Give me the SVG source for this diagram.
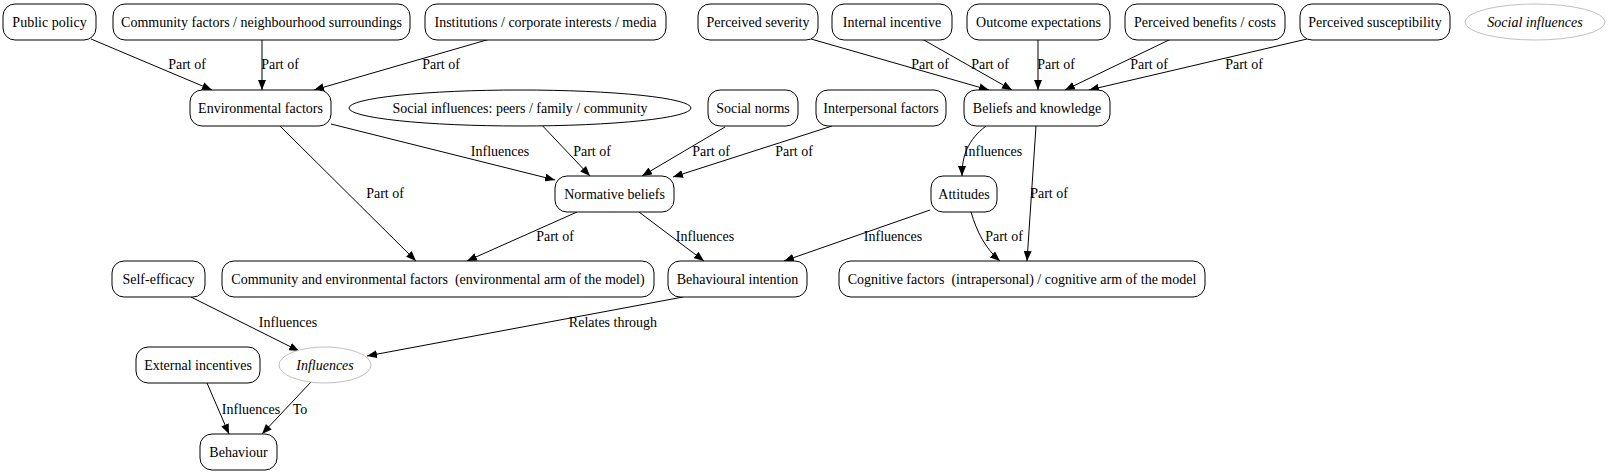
<svg xmlns="http://www.w3.org/2000/svg" width="1611" height="474" viewBox="0 0 1611 474">
<style>
text{font-family:"Liberation Serif","Times New Roman",serif;font-size:14px;fill:#000}
.n{text-anchor:middle}
.box{fill:#fff;stroke:#000;stroke-width:1}
.soft{fill:#fff;stroke:#c0c0c0;stroke-width:1}
.it{font-style:italic}
.e{fill:none;stroke:#000;stroke-width:1}
.l{text-anchor:middle}
</style>
<defs>
<marker id="ah" viewBox="0 0 10 8" refX="10" refY="4" markerWidth="10" markerHeight="8" markerUnits="userSpaceOnUse" orient="auto">
<path d="M0,0 L10,4 L0,8 Z" fill="#000"/>
</marker>
</defs>
<rect width="1611" height="474" fill="#fff"/>
<g id="connectors">
<path class="e" d="M91,39 L212,90" marker-end="url(#ah)"/>
<text class="l" x="187" y="69">Part of</text>
<path class="e" d="M262,39 L262,90" marker-end="url(#ah)"/>
<text class="l" x="280" y="69">Part of</text>
<path class="e" d="M490,39 L314,90" marker-end="url(#ah)"/>
<text class="l" x="441" y="69">Part of</text>
<path class="e" d="M811,39 L989,90" marker-end="url(#ah)"/>
<text class="l" x="930" y="69">Part of</text>
<path class="e" d="M922,39 L1012,90" marker-end="url(#ah)"/>
<text class="l" x="990" y="69">Part of</text>
<path class="e" d="M1038,39 L1038,90" marker-end="url(#ah)"/>
<text class="l" x="1056" y="69">Part of</text>
<path class="e" d="M1171,39 L1065,90" marker-end="url(#ah)"/>
<text class="l" x="1149" y="69">Part of</text>
<path class="e" d="M1307,39 L1089,90" marker-end="url(#ah)"/>
<text class="l" x="1244" y="69">Part of</text>
<path class="e" d="M331,124 L555,180" marker-end="url(#ah)"/>
<text class="l" x="500" y="156">Influences</text>
<path class="e" d="M280,126 L416,261" marker-end="url(#ah)"/>
<text class="l" x="385" y="198">Part of</text>
<path class="e" d="M538,121 L590,176" marker-end="url(#ah)"/>
<text class="l" x="592" y="156">Part of</text>
<path class="e" d="M725,127 L642,176" marker-end="url(#ah)"/>
<text class="l" x="711" y="156">Part of</text>
<path class="e" d="M832,126 L673,177" marker-end="url(#ah)"/>
<text class="l" x="794" y="156">Part of</text>
<path class="e" d="M986,126 C968,140 962,155 962,176" marker-end="url(#ah)"/>
<text class="l" x="993" y="156">Influences</text>
<path class="e" d="M1036,126 L1027,261" marker-end="url(#ah)"/>
<text class="l" x="1049" y="198">Part of</text>
<path class="e" d="M577,212 L467,261" marker-end="url(#ah)"/>
<text class="l" x="555" y="241">Part of</text>
<path class="e" d="M639,212 L704,261" marker-end="url(#ah)"/>
<text class="l" x="705" y="241">Influences</text>
<path class="e" d="M930,210 L784,261" marker-end="url(#ah)"/>
<text class="l" x="893" y="241">Influences</text>
<path class="e" d="M971,212 C977,232 985,248 1000,261" marker-end="url(#ah)"/>
<text class="l" x="1004" y="241">Part of</text>
<path class="e" d="M191,297 L299,351" marker-end="url(#ah)"/>
<text class="l" x="288" y="327">Influences</text>
<path class="e" d="M683,297 L367,356" marker-end="url(#ah)"/>
<text class="l" x="613" y="327">Relates through</text>
<path class="e" d="M207,383 L229,434" marker-end="url(#ah)"/>
<text class="l" x="251" y="414">Influences</text>
<path class="e" d="M311,382 L262,434" marker-end="url(#ah)"/>
<text class="l" x="300" y="414">To</text>
</g>
<g id="public_policy"><rect class="box" x="3" y="4" width="93" height="36" rx="12"/><text class="n" x="49.5" y="27">Public policy</text></g>
<g id="community_factors"><rect class="box" x="113" y="4" width="297" height="36" rx="12"/><text class="n" x="261.5" y="27">Community factors / neighbourhood surroundings</text></g>
<g id="institutions"><rect class="box" x="425" y="4" width="241" height="36" rx="12"/><text class="n" x="545.5" y="27">Institutions / corporate interests / media</text></g>
<g id="perceived_severity"><rect class="box" x="698" y="4" width="120" height="36" rx="12"/><text class="n" x="758" y="27">Perceived severity</text></g>
<g id="internal_incentive"><rect class="box" x="832" y="4" width="120" height="36" rx="12"/><text class="n" x="892" y="27">Internal incentive</text></g>
<g id="outcome_expectations"><rect class="box" x="967" y="4" width="143" height="36" rx="12"/><text class="n" x="1038.5" y="27">Outcome expectations</text></g>
<g id="perceived_benefits"><rect class="box" x="1125" y="4" width="160" height="36" rx="12"/><text class="n" x="1205" y="27">Perceived benefits / costs</text></g>
<g id="perceived_susceptibility"><rect class="box" x="1300" y="4" width="150" height="36" rx="12"/><text class="n" x="1375" y="27">Perceived susceptibility</text></g>
<g id="social_influences_legend"><ellipse class="soft" cx="1535" cy="22" rx="70" ry="18"/><text class="n it" x="1535" y="27">Social influences</text></g>
<g id="environmental_factors"><rect class="box" x="190" y="90" width="141" height="36" rx="12"/><text class="n" x="260.5" y="113">Environmental factors</text></g>
<g id="social_influences_peers"><ellipse class="box" cx="520" cy="108" rx="171" ry="18"/><text class="n" x="520" y="113">Social influences: peers / family / community</text></g>
<g id="social_norms"><rect class="box" x="708" y="90" width="90" height="36" rx="12"/><text class="n" x="753" y="113">Social norms</text></g>
<g id="interpersonal_factors"><rect class="box" x="816" y="90" width="130" height="36" rx="12"/><text class="n" x="881" y="113">Interpersonal factors</text></g>
<g id="beliefs_knowledge"><rect class="box" x="964" y="90" width="146" height="36" rx="12"/><text class="n" x="1037" y="113">Beliefs and knowledge</text></g>
<g id="normative_beliefs"><rect class="box" x="555" y="176" width="119" height="36" rx="12"/><text class="n" x="614.5" y="199">Normative beliefs</text></g>
<g id="attitudes"><rect class="box" x="931" y="176" width="66" height="36" rx="12"/><text class="n" x="964" y="199">Attitudes</text></g>
<g id="self_efficacy"><rect class="box" x="112" y="261" width="93" height="36" rx="12"/><text class="n" x="158.5" y="284">Self-efficacy</text></g>
<g id="community_env_factors"><rect class="box" x="222" y="261" width="432" height="36" rx="12"/><text class="n" x="438" y="284" xml:space="preserve">Community and environmental factors  (environmental arm of the model)</text></g>
<g id="behavioural_intention"><rect class="box" x="668" y="261" width="139" height="36" rx="12"/><text class="n" x="737.5" y="284">Behavioural intention</text></g>
<g id="cognitive_factors"><rect class="box" x="839" y="261" width="366" height="36" rx="12"/><text class="n" x="1022" y="284" xml:space="preserve">Cognitive factors  (intrapersonal) / cognitive arm of the model</text></g>
<g id="external_incentives"><rect class="box" x="136" y="347" width="124" height="36" rx="12"/><text class="n" x="198" y="370">External incentives</text></g>
<g id="influences_node"><ellipse class="soft" cx="325" cy="365" rx="46" ry="18"/><text class="n it" x="325" y="370">Influences</text></g>
<g id="behaviour"><rect class="box" x="200" y="434" width="77" height="36" rx="12"/><text class="n" x="238.5" y="457">Behaviour</text></g>
</svg>
